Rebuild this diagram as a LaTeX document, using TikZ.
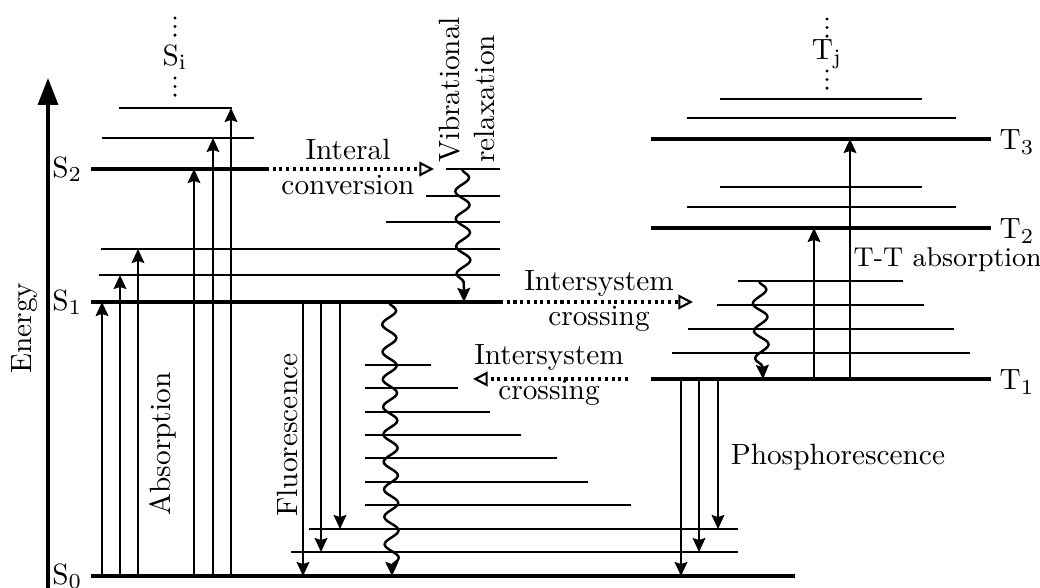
\documentclass[tikz,border=0pt]{standalone}
\usepackage{tikz}
\usetikzlibrary{arrows.meta, decorations.pathmorphing}
\tikzset{%
    level/.style={%
        line width=0.7pt
    },
    mainlevel/.style={%
        line width=1.6pt
    },
    transition/.style={%
        line width=0.6pt, -{Stealth[length=4.6pt, width=4.2pt, inset=0.7pt]}
    },
    crossing/.style={%
        line width=1pt, dash pattern=on 1pt off 1.2pt,
        -{Triangle[open, length=4.8pt, width=4.8pt, line width=0.7pt]}
    },
    relax/.style={%
        line width=0.8pt, decorate,
        decoration={snake, amplitude=2.3pt, segment length=9pt, post length=3pt},
        -{Stealth[length=4.6pt, width=4.2pt, inset=0.7pt]}
    },
    dots/.style={%
        line width=1.1pt, line cap=round, dash pattern=on 0pt off 2.8pt
    },
    statelabel/.style={%
        inner sep=1pt
    },
}

\begin{document}
\begin{tikzpicture}[x=0.0115cm, y=-0.0115cm, font=\fontsize{9.6}{11.6}\selectfont]
    \useasboundingbox (0,0) rectangle (1040,588);
    % level heights (singlets / triplets)
    \def\ySz{576}
    \def\ySo{302}
    \def\ySt{169}
    \def\yTo{379}
    \def\yTt{228}
    \def\yTh{139}

    % energy axis
    \draw[line width=1.1pt, -{Triangle[length=8.8pt, width=6.5pt]}] (48,588) -- (48,78);
    \node[rotate=90] (energy) at (25,328) {Energy};

    % singlet levels
    \draw[mainlevel] (91,\ySz) -- (795,\ySz);
    \draw[mainlevel] (91,\ySo) -- (500,\ySo);
    \draw[mainlevel] (91,\ySt) -- (266,\ySt);
    \foreach \y/\xa/\xb in {552/291/738, 529/309/738, 505/365/631, 482/365/588,
        458/365/557, 435/365/521, 412/365/490, 388/365/458, 365/365/431,
        275/99/500, 249/101/500, 222/386/500, 196/426/500, 169/446/500,
        138/102/254, 108/119/232}
        \draw[level] (\xa,\y) -- (\xb,\y);

    \node[statelabel, anchor=east] (S0) at (86,\ySz) {S$_0$};
    \node[statelabel, anchor=east] (S1) at (86,\ySo) {S$_1$};
    \node[statelabel, anchor=east] (S2) at (86,\ySt) {S$_2$};
    \node[statelabel] (Si) at (175,57) {S$_\mathrm{i}$};
    \draw[dots] (175,18) -- (175,36);
    \draw[dots] (175,78) -- (175,96);

    % triplet levels
    \draw[mainlevel] (651,\yTo) -- (991,\yTo);
    \draw[mainlevel] (651,\yTt) -- (991,\yTt);
    \draw[mainlevel] (651,\yTh) -- (991,\yTh);
    \foreach \y/\xa/\xb in {353/672/970, 329/688/954, 305/717/924, 281/738/903,
        207/687/956, 187/720/922, 118/687/956, 99/720/922}
        \draw[level] (\xa,\y) -- (\xb,\y);

    \node[statelabel, anchor=west] (T1) at (996,\yTo+3) {T$_1$};
    \node[statelabel, anchor=west] (T2) at (996,\yTt+3) {T$_2$};
    \node[statelabel, anchor=west] (T3) at (996,\yTh+3) {T$_3$};
    \node[statelabel] (Tj) at (827,54) {T$_\mathrm{j}$};
    \draw[dots] (827,19) -- (827,37);
    \draw[dots] (827,71) -- (827,89);

    % absorption
    \foreach \x/\y in {102/302, 120/275, 138/249, 194/169, 213/138, 231/108}
        \draw[transition] (\x,\ySz) -- (\x,\y);
    \node[rotate=90] (absorption) at (163,444) {Absorption};

    % fluorescence
    \foreach \x/\y in {303/576, 321/552, 340/529}
        \draw[transition] (\x,\ySo) -- (\x,\y);
    \node[rotate=90] (fluorescence) at (287,435) {Fluorescence};

    % phosphorescence
    \foreach \x/\y in {681/576, 699/552, 718/529}
        \draw[transition] (\x,\yTo) -- (\x,\y);
    \node[anchor=west] (phosphorescence) at (720,457) {Phosphorescence};

    % T-T absorption
    \draw[transition] (814,\yTo) -- (814,\yTt);
    \draw[transition] (850,\yTo) -- (850,\yTh);
    \node[anchor=west, inner sep=0pt, font=\fontsize{8.9}{10.7}\selectfont] (ttabs) at (853,260) {T-T absorption};

    % non-radiative
    \draw[crossing] (266,\ySt) -- (434,\ySt);
    \node[align=center] (ic) at (348,167) {Interal\\conversion};
    \draw[crossing] (500,\ySo) -- (693,\ySo);
    \node[align=center] (iscS) at (599,301) {Intersystem\\crossing};
    \draw[crossing] (628,\yTo) -- (473,\yTo);
    \node[align=center] (iscT) at (549,375) {Intersystem\\crossing};

    \draw[relax] (462,\ySt) -- (464,\ySo);
    \node[rotate=90, align=left] (vibrel) at (467,90) {Vibrational\\relaxation};
    \draw[relax] (389,\ySo) -- (392,\ySz);
    \draw[relax] (759,281) -- (763,\yTo);
\end{tikzpicture}
\end{document}
